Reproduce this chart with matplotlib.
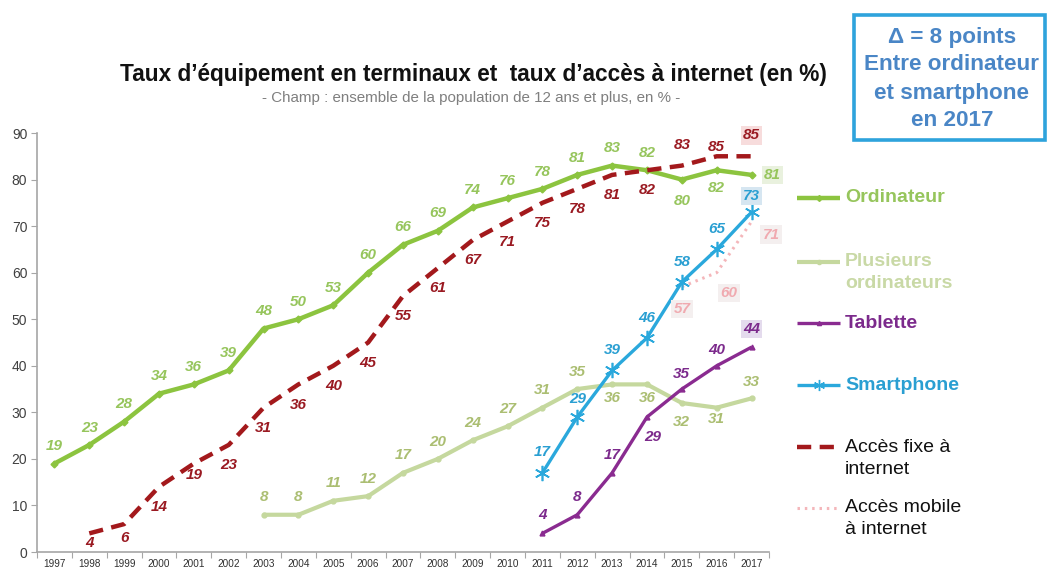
import matplotlib
matplotlib.use("Agg")
import matplotlib.pyplot as plt
from matplotlib.lines import Line2D
from matplotlib.patches import Rectangle

plt.rcParams['font.family'] = ['Liberation Sans', 'DejaVu Sans']

# ---- data -------------------------------------------------------------
years = [1997, 1998, 1999, 2000, 2001, 2002, 2003, 2004, 2005, 2006, 2007,
         2008, 2009, 2010, 2011, 2012, 2013, 2014, 2015, 2016, 2017]

ordinateur_years = years
ordinateur = [19, 23, 28, 34, 36, 39, 48, 50, 53, 60, 66, 69, 74, 76, 78, 81,
              83, 82, 80, 82, 81]

plusieurs_years = [2003, 2004, 2005, 2006, 2007, 2008, 2009, 2010, 2011, 2012,
                   2013, 2014, 2015, 2016, 2017]
plusieurs = [8, 8, 11, 12, 17, 20, 24, 27, 31, 35, 36, 36, 32, 31, 33]

tablette_years = [2011, 2012, 2013, 2014, 2015, 2016, 2017]
tablette = [4, 8, 17, 29, 35, 40, 44]

smartphone_years = [2011, 2012, 2013, 2014, 2015, 2016, 2017]
smartphone = [17, 29, 39, 46, 58, 65, 73]

fixe_years = [1998, 1999, 2000, 2001, 2002, 2003, 2004, 2005, 2006, 2007, 2008,
              2009, 2010, 2011, 2012, 2013, 2014, 2015, 2016, 2017]
fixe = [4, 6, 14, 19, 23, 31, 36, 40, 45, 55, 61, 67, 71, 75, 78, 81, 82, 83,
        85, 85]

mobile_years = [2015, 2016, 2017]
mobile = [57, 60, 71]

# ---- label placement (offsets in points) -----------------------------
UP, DN = 12.5, -14.5
ord_off = [(0, UP)] * 18 + [(0, -15.5), (0, -13), (15, 0)]
plus_off = [(0, UP)] * 10 + [(0, -10), (0, -10), (0, -14), (0, -8.5), (0, 11.5)]
tab_off = [(0, 13), (0, 13), (0, 13), (4, DN), (0, 11), (0, 11), (0, 13)]
smart_off = [(0, 15), (0, 13), (0, 15), (0, 14.5), (0, 14.5), (0, 15), (0, 11.5)]
fixe_off = [(0, -7), (0, -10), (0, DN), (0, -8.5)] + [(0, DN)] * 13 + \
           [(0, 14.5), (0, 7), (0, 15)]
mob_off = [(0, -16), (9, DN), (14, -9.5)]

# ---- colours ---------------------------------------------------------
C_ORD, C_ORD_T = '#8cc43f', '#96c55c'
C_PLU, C_PLU_T = '#c5d89e', '#abbe72'
C_TAB, C_TAB_T = '#8a2b90', '#7c2a8c'
C_SMA, C_SMA_T = '#2aa8dc', '#2a9fd2'
C_FIX, C_FIX_T = '#a3191c', '#9a1a22'
C_MOB, C_MOB_T = '#f4b6ba', '#f0aab0'

W, H = 1049, 570
fig = plt.figure(figsize=(W / 100, H / 100), dpi=100)
ax = fig.add_axes([37 / W, 18 / H, (769 - 37) / W, (552 - 133) / H])


def xpos(yrs):
    return [years.index(y) for y in yrs]


series = [
    (ordinateur_years, ordinateur, dict(color=C_ORD, lw=3.2, marker='D', ms=3.5,
                                         mec=C_ORD), C_ORD_T, ord_off, {20: '#e9f1de'}),
    (plusieurs_years, plusieurs, dict(color=C_PLU, lw=3.0, marker='o', ms=3.5,
                                       mec=C_PLU), C_PLU_T, plus_off, {}),
    (fixe_years, fixe, dict(color=C_FIX, lw=3.2, ls=(0, (3.2, 1.9))), C_FIX_T,
     fixe_off, {19: '#f7dcdc'}),
    (tablette_years, tablette, dict(color=C_TAB, lw=2.4, marker='^', ms=3.5,
                                     mec=C_TAB), C_TAB_T, tab_off, {6: '#e4dbed'}),
    (mobile_years, mobile, dict(color=C_MOB, lw=2.2, ls=(0, (0.8, 1.6))), C_MOB_T,
     mob_off, {0: '#f4efef', 1: '#f4efef', 2: '#f4efef'}),
    (smartphone_years, smartphone, dict(color=C_SMA, lw=2.4, marker=(6, 2, 0),
                                         ms=11, mew=1.2, mec=C_SMA), C_SMA_T,
     smart_off, {6: '#d6e6f1'}),
]

for yrs, vals, style, tcol, offs, boxes in series:
    xs = xpos(yrs)
    ax.plot(xs, vals, clip_on=False, zorder=3, solid_capstyle='butt', **style)
    for i, (x, v) in enumerate(zip(xs, vals)):
        bbox = None
        if i in boxes:
            bbox = dict(boxstyle='square,pad=0.15', fc=boxes[i], ec='none')
        ax.annotate(str(v), (x, v), xytext=offs[i], textcoords='offset points',
                    ha='center', va='center', fontsize=11, fontweight='bold',
                    fontstyle='italic', color=tcol, bbox=bbox, zorder=4,
                    annotation_clip=False)

# ---- axes ------------------------------------------------------------
ax.set_xlim(-0.5, len(years) - 0.5)
ax.set_ylim(0, 90)
ax.set_yticks(range(0, 91, 10))
ax.tick_params(axis='y', length=4, color='#a6a6a6', labelsize=10,
               labelcolor='#404040', pad=3)
ax.set_xticks([i - 0.5 for i in range(len(years) + 1)])
ax.set_xticklabels([])
ax.tick_params(axis='x', which='major', length=4, color='#a6a6a6')
ax.set_xticks(range(len(years)), minor=True)
ax.set_xticklabels([str(y) for y in years], minor=True)
ax.tick_params(axis='x', which='minor', length=0, labelsize=7.2,
               labelcolor='#303030', pad=5)
for s in ('top', 'right'):
    ax.spines[s].set_visible(False)
for s in ('left', 'bottom'):
    ax.spines[s].set_color('#a6a6a6')
    ax.spines[s].set_linewidth(1.2)


def fx(px):
    return px / W


def fy(py):
    return 1 - py / H


# ---- titles ----------------------------------------------------------
fig.text(fx(473), fy(75), "Taux d’équipement en terminaux et  taux d’accès à internet (en %)",
         ha='center', va='center', fontsize=16.3, fontweight='bold', color='#111111')
fig.text(fx(471), fy(98), "- Champ : ensemble de la population de 12 ans et plus, en % -",
         ha='center', va='center', fontsize=10.9, color='#7f7f7f')

# ---- note box --------------------------------------------------------
fig.add_artist(Rectangle((fx(854), fy(140)), fx(1045 - 854), (140 - 15) / H,
                         transform=fig.transFigure, fill=False,
                         ec='#2ea3dc', lw=2.6))
for txt, py in [("Δ = 8 points", 38), ("Entre ordinateur", 65),
                ("et smartphone", 93), ("en 2017", 120)]:
    fig.text(fx(952), fy(py), txt, ha='center', va='center', fontsize=16.2,
             fontweight='bold', color='#4a86c6')

# ---- legend ----------------------------------------------------------
legend_items = [
    (["Ordinateur"], 198, dict(color=C_ORD, lw=3.2), dict(marker='D', ms=3, color=C_ORD),
     dict(color=C_ORD_T, fontweight='bold')),
    (["Plusieurs", "ordinateurs"], 262, dict(color=C_PLU, lw=3.0),
     dict(marker='o', ms=3, color=C_PLU), dict(color='#c9d9a6', fontweight='bold')),
    (["Tablette"], 323, dict(color=C_TAB, lw=2.4), dict(marker='^', ms=3, color=C_TAB),
     dict(color=C_TAB_T, fontweight='bold')),
    (["Smartphone"], 385, dict(color=C_SMA, lw=2.4),
     dict(marker=(6, 2, 0), ms=8, mew=1, color=C_SMA), dict(color=C_SMA_T, fontweight='bold')),
    (["Accès fixe à", "internet"], 447, dict(color=C_FIX, lw=3.2, ls=(0, (3.2, 1.9))),
     None, dict(color='#111111')),
    (["Accès mobile", "à internet"], 508, dict(color=C_MOB, lw=2.2, ls=(0, (0.8, 1.6))),
     None, dict(color='#111111')),
]
for lines, py, lstyle, mstyle, tstyle in legend_items:
    fig.add_artist(Line2D([fx(797), fx(840)], [fy(py), fy(py)],
                          transform=fig.transFigure, solid_capstyle='butt', **lstyle))
    if mstyle:
        fig.add_artist(Line2D([fx(818.5)], [fy(py)], transform=fig.transFigure,
                              ls='none', **mstyle))
    for k, line in enumerate(lines):
        fig.text(fx(845), fy(py + 22 * k), line, ha='left', va='center',
                 fontsize=14, **tstyle)

fig.savefig("out.png", dpi=100)
